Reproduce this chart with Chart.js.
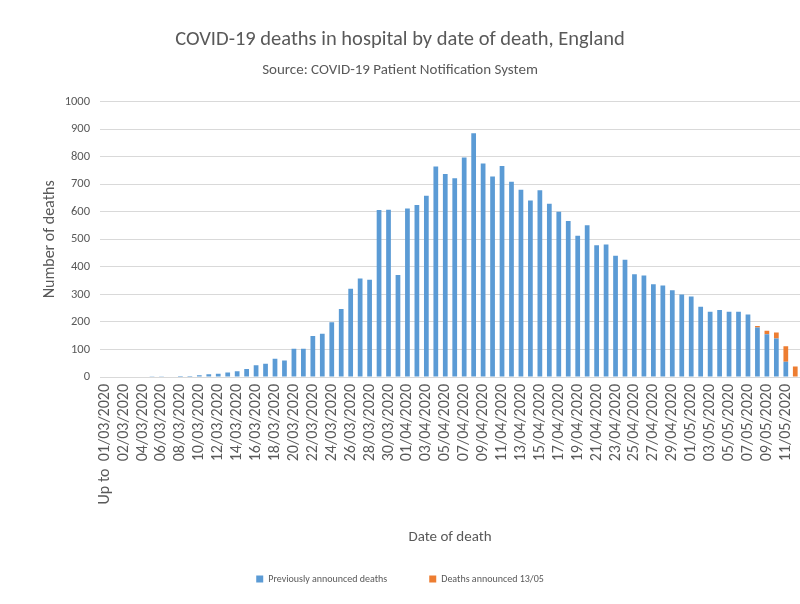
<!DOCTYPE html>
<html>
<head>
<meta charset="utf-8">
<script src="https://cdn.jsdelivr.net/npm/chart.js@4.4.1/dist/chart.umd.min.js"></script>
<style>
  html, body { margin: 0; padding: 0; background: #ffffff; }
  #wrap { width: 800px; height: 604px; position: relative; }
</style>
</head>
<body>
<div id="wrap"><canvas id="chart" width="800" height="604"></canvas></div>
<script>
// Dates of death: the "Up to" bucket, then 1 March to 12 May 2020
const categories = [
  "Up to  01/03/2020",
  "01/03/2020","02/03/2020","03/03/2020","04/03/2020","05/03/2020","06/03/2020","07/03/2020","08/03/2020",
  "09/03/2020","10/03/2020","11/03/2020","12/03/2020","13/03/2020","14/03/2020","15/03/2020","16/03/2020",
  "17/03/2020","18/03/2020","19/03/2020","20/03/2020","21/03/2020","22/03/2020","23/03/2020","24/03/2020",
  "25/03/2020","26/03/2020","27/03/2020","28/03/2020","29/03/2020","30/03/2020","31/03/2020",
  "01/04/2020","02/04/2020","03/04/2020","04/04/2020","05/04/2020","06/04/2020","07/04/2020","08/04/2020",
  "09/04/2020","10/04/2020","11/04/2020","12/04/2020","13/04/2020","14/04/2020","15/04/2020","16/04/2020",
  "17/04/2020","18/04/2020","19/04/2020","20/04/2020","21/04/2020","22/04/2020","23/04/2020","24/04/2020",
  "25/04/2020","26/04/2020","27/04/2020","28/04/2020","29/04/2020","30/04/2020",
  "01/05/2020","02/05/2020","03/05/2020","04/05/2020","05/05/2020","06/05/2020","07/05/2020","08/05/2020",
  "09/05/2020","10/05/2020","11/05/2020","12/05/2020"
];

// Deaths already announced before 13/05
const previouslyAnnounced = [
  0,
  0, 0, 0, 0, 1, 1, 2, 4,
  4, 6, 10, 12, 16, 21, 29, 43,
  48, 66, 60, 103, 103, 149, 157, 199,
  247, 320, 358, 353, 606, 607, 370,
  612, 625, 658, 764, 737, 722, 797, 885,
  775, 728, 766, 709, 680, 641, 678, 629,
  600, 566, 513, 551, 478, 481, 440, 426,
  373, 369, 337, 332, 315, 300,
  292, 255, 237, 243, 237, 237, 227, 180,
  155, 140, 55, 0
];

// Deaths announced on 13/05
const announced1305 = [
  0,
  0, 0, 0, 0, 0, 0, 0, 0,
  0, 0, 0, 0, 0, 0, 0, 0,
  0, 0, 0, 0, 0, 0, 0, 0,
  0, 0, 0, 0, 0, 0, 0,
  0, 0, 0, 0, 0, 0, 0, 0,
  0, 0, 0, 0, 0, 0, 0, 0,
  0, 0, 0, 0, 0, 0, 0, 0,
  0, 0, 0, 0, 0, 0,
  0, 0, 0, 0, 0, 0, 0, 5,
  13, 22, 57, 38
];

const yTicks = [0, 100, 200, 300, 400, 500, 600, 700, 800, 900, 1000];

const FONT = "Carlito, Lato, 'Liberation Sans', sans-serif";
const TEXT = "#595959";
const GRID = "#d9d9d9";

new Chart(document.getElementById("chart"), {
  type: "bar",
  data: {
    labels: categories,
    datasets: [
      {
        label: "Previously announced deaths",
        data: previouslyAnnounced,
        backgroundColor: "#5B9BD5",
        barPercentage: 0.5,
        categoryPercentage: 1.0
      },
      {
        label: "Deaths announced 13/05",
        data: announced1305,
        backgroundColor: "#ED7D31",
        barPercentage: 0.5,
        categoryPercentage: 1.0
      }
    ]
  },
  options: {
    responsive: false,
    animation: false,
    layout: { padding: { left: 0, right: 0, top: 0, bottom: 10 } },
    plugins: {
      title: {
        display: true,
        text: "COVID-19 deaths in hospital by date of death, England",
        color: TEXT,
        font: { family: FONT, size: 20.5, weight: "normal" },
        padding: { top: 28, bottom: 9 }
      },
      subtitle: {
        display: true,
        text: "Source: COVID-19 Patient Notification System",
        color: TEXT,
        font: { family: FONT, size: 15, weight: "normal" },
        padding: { top: 0, bottom: 22 }
      },
      legend: {
        position: "bottom",
        labels: {
          color: TEXT,
          font: { family: FONT, size: 10 },
          boxWidth: 7,
          boxHeight: 7,
          padding: 42
        }
      },
      tooltip: { enabled: false }
    },
    scales: {
      x: {
        stacked: true,
        grid: { display: false, drawTicks: false },
        border: { display: true, color: GRID },
        ticks: {
          autoSkip: false,
          maxRotation: 90,
          minRotation: 90,
          color: TEXT,
          font: { family: FONT, size: 16 },
          padding: 7,
          callback: function (value, index) {
            return index % 2 === 0 ? categories[index] : "";
          }
        },
        title: {
          display: true,
          text: "Date of death",
          color: TEXT,
          font: { family: FONT, size: 15 },
          padding: { top: 0, bottom: -14 }
        },
        afterFit: function (scale) {
          scale.height = 155;
          scale.paddingLeft = 0;
          scale.paddingRight = 0;
        }
      },
      y: {
        stacked: true,
        min: 0,
        max: 1000,
        afterBuildTicks: function (scale) {
          scale.ticks = yTicks.map(function (v) { return { value: v }; });
        },
        grid: { color: GRID, drawTicks: false },
        border: { display: false },
        ticks: {
          color: TEXT,
          font: { family: FONT, size: 12.5 },
          padding: 10,
          callback: function (value) { return String(value); }
        },
        title: {
          display: true,
          text: "Number of deaths",
          color: TEXT,
          font: { family: FONT, size: 16 },
          padding: { top: 40, bottom: 0 }
        },
        afterFit: function (scale) { scale.width = 100; }
      }
    }
  }
});
</script>
</body>
</html>
